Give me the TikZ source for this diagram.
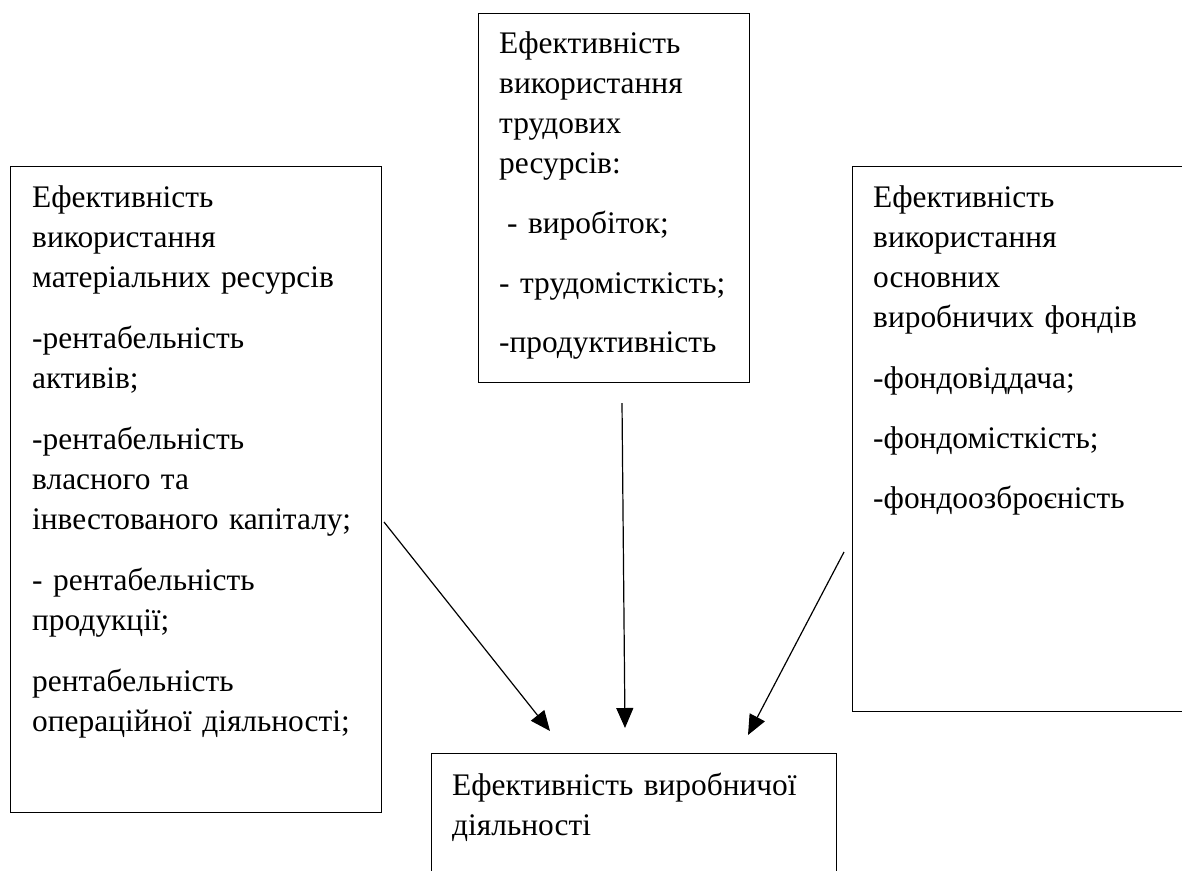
\documentclass[tikz,border=0pt]{standalone}
\usepackage{fontspec}
\setmainfont{Liberation Serif}
\usetikzlibrary{arrows.meta}
\begin{document}
\begin{tikzpicture}[x=1pt,y=-1pt,
  frame/.style={draw=black, line width=1.3pt, anchor=north west, inner sep=0pt},
  txt/.style={anchor=north west, inner sep=0pt, text width=420pt, align=left,
    font=\fontsize{31.4}{40}\selectfont},
  conn/.style={draw=black, line width=1.2pt, -{Triangle[length=20pt,width=17pt]}}]
\useasboundingbox (0,0) rectangle (1182,870);
% frames
\node[frame, minimum width=371pt, minimum height=646pt] (matbox) at (10,166) {};
\node[frame, minimum width=271pt, minimum height=369pt] (trudbox) at (478,13) {};
\node[frame, minimum width=360pt, minimum height=545pt] (fondbox) at (852,166) {};
\node[frame, minimum width=405pt, minimum height=140pt] (resbox) at (431,753) {};
% texts
\node[txt] (mattext) at (32,179) {\strut Ефективність\\
використання\\
матеріальних ресурсів\\[21pt]
-рентабельність\\
активів;\\[21pt]
-рентабельність\\
власного та\\
інвестованого капіталу;\\[21pt]
- рентабельність\\
продукції;\\[21pt]
рентабельність\\
операційної діяльності;};
\node[txt] (trudtext) at (499,25) {\strut Ефективність\\
використання\\
трудових\\
ресурсів:\\[20pt]
\hspace*{8pt}- виробіток;\\[20pt]
- трудомісткість;\\[19pt]
-продуктивність};
\node[txt] (fondtext) at (873,179) {\strut Ефективність\\
використання\\
основних\\
виробничих фондів\\[21pt]
-фондовіддача;\\[20pt]
-фондомісткість;\\[20pt]
-фондоозброєність};
\node[txt] (restext) at (452,767) {\strut Ефективність виробничої\\
діяльності};
% connectors
\coordinate (a1s) at (384,522);
\coordinate (a1e) at (550,731);
\coordinate (a2s) at (622,403);
\coordinate (a2e) at (625,728);
\coordinate (a3s) at (844,552);
\coordinate (a3e) at (748,735);
\draw[conn] (a1s) -- (a1e);
\draw[conn] (a2s) -- (a2e);
\draw[conn] (a3s) -- (a3e);
\end{tikzpicture}
\end{document}
